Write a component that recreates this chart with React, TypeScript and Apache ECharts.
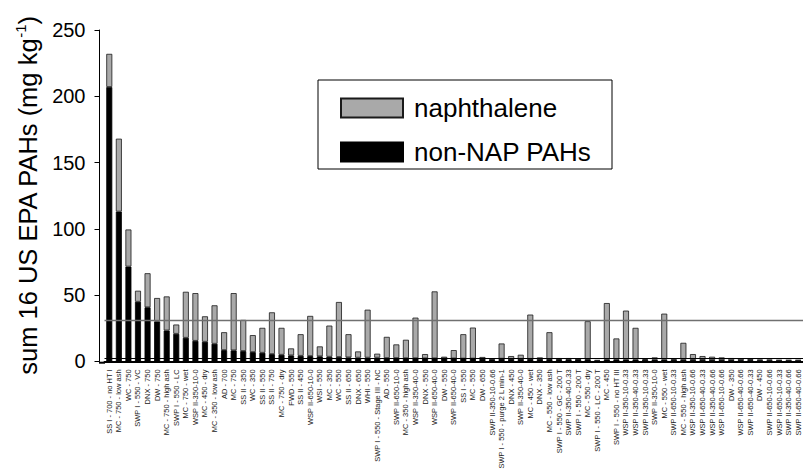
import React, { useEffect, useRef } from "react";
import * as echarts from "echarts";

const categories: string[] = [
  "SS I - 700 - no HT I", "MC - 750 - low ash", "WC - 750", "SWP I - 550 - VC", "DNX - 750",
  "DW - 750", "MC - 750 - high ash", "SWP I - 550 - LC", "MC - 750 - wet", "WSP II-350-10-0",
  "MC - 450 - dry", "MC - 350 - low ash", "AD - 700", "MC - 750", "SS II - 350",
  "WC - 350", "SS II - 550", "SS II - 750", "MC - 750 - dry", "FWD - 550",
  "SS II - 450", "WSP II-650-10-0", "WSI - 550", "MC - 350", "WC - 550",
  "SS II - 650", "DNX - 650", "WHI - 550", "SWP I - 550 - Stage III - NC", "AD - 550",
  "SWP II-650-10-0", "MC - 350 - high ash", "WSP II-350-40-0", "DNX - 550", "WSP II-650-40-0",
  "DW - 550", "SWP II-650-40-0", "SS I - 550", "MC - 550", "DW - 650",
  "SWP II-350-10-0.66", "SWP I - 550 - purge 2 L min-1", "DNX - 450", "SWP II-350-40-0", "MC - 450 - wet",
  "DNX - 350", "MC - 550 - low ash", "SWP I - 550 - GC - 200 T", "SWP II-350-40-0.33", "SWP I - 550 - 200 T",
  "MC - 550 - dry", "SWP I - 550 - LC - 200 T", "MC - 450", "SWP I - 550 - no HT III", "WSP II-350-10-0.33",
  "WSP II-350-40-0.33", "SWP II-350-10-0.33", "SWP II-350-10-0", "MC - 550 - wet", "SWP II-650-10-0.33",
  "MC - 550 - high ash", "WSP II-350-10-0.66", "WSP II-650-40-0.33", "WSP II-350-40-0.66", "WSP II-650-10-0.66",
  "DW - 350", "WSP II-650-40-0.66", "SWP II-650-40-0.33", "DW - 450", "SWP II-650-10-0.66",
  "WSP II-650-10-0.33", "SWP II-350-40-0.66", "SWP II-650-40-0.66",
];

const nonNapPAHs: number[] = [
  207, 113, 71.5, 45, 40.8, 30, 23.3, 20.8, 17.8, 15.5,
  14.8, 13.3, 8.5, 8.3, 7.8, 7, 6.5, 5.5, 5, 4.5,
  4.2, 4, 3.8, 3.5, 3.3, 3, 2.8, 2.8, 2.8, 2.5,
  2.5, 2.4, 2.4, 2.3, 2.3, 2.2, 2.2, 2.1, 2.1, 2,
  1.6, 2, 1.9, 1.9, 1.9, 1.8, 1.8, 1.7, 1.6, 1.6,
  1.6, 0.5, 1.5, 1.5, 1.4, 1.4, 1.2, 1.3, 1.3, 1.2,
  1.2, 1.1, 1.1, 1, 1, 1, 0.9, 0.9, 0.8, 0.8,
  0.7, 0.7, 0.7,
];

const naphthalene: number[] = [
  25, 55, 28, 8.3, 25.7, 17.8, 25.7, 7, 34.7, 36,
  19.2, 29, 13.5, 43.2, 23.5, 12.8, 18.8, 31.5, 20.3, 5.3,
  16.3, 30.3, 7.5, 23.5, 41.5, 17.5, 4.7, 36.2, 3, 16,
  10.3, 13.9, 30.6, 3.2, 50.5, 1.3, 6.3, 18.4, 23.4, 1.3,
  0.7, 11.5, 2.1, 3.1, 33.4, 1.2, 20.2, 0.8, 0.9, 0.4,
  28.7, 0.5, 42.5, 15.8, 36.9, 23.9, 0.6, 1.7, 34.7, 0.8,
  12.8, 4.4, 2.9, 2.5, 2, 1.5, 1.1, 0.9, 0.5, 0.5,
  0.3, 0.3, 0.3,
];

const referenceLines: number[] = [31.3, 2.5];
const yTicks = { min: 0, max: 250, interval: 50 };

const FONT = "Liberation Sans, Arial, sans-serif";

export default function App() {
  const ref = useRef<HTMLDivElement>(null);

  useEffect(() => {
    if (!ref.current) return;
    const chart = echarts.init(ref.current, undefined, { renderer: "svg" });
    chart.setOption({
      animation: false,
      backgroundColor: "#ffffff",
      grid: { left: 104.5, right: -8, top: 30, bottom: 109.3, containLabel: false },
      graphic: [
        {
          type: "rect",
          shape: { x: 318, y: 80, width: 294, height: 89 },
          style: { fill: "#ffffff", stroke: "#000000", lineWidth: 1 },
          z: 0,
        },
        {
          type: "line",
          shape: { x1: 99, y1: 362.7, x2: 105, y2: 362.7 },
          style: { stroke: "#000000", lineWidth: 2 },
          z: 10,
        },
      ],
      legend: {
        data: ["naphthalene", "non-NAP PAHs"],
        orient: "vertical",
        left: 340,
        top: 95,
        itemWidth: 62,
        itemHeight: 19,
        itemGap: 18,
        icon: "rect",
        padding: 0,
        textStyle: { fontSize: 26, color: "#000000", fontFamily: FONT, padding: [0, 0, 0, 6] },
        z: 5,
      },
      xAxis: {
        type: "category",
        data: categories,
        axisLine: { lineStyle: { color: "#000000", width: 2 } },
        axisTick: { alignWithLabel: true, length: 5, lineStyle: { color: "#000000" } },
        axisLabel: {
          interval: 0,
          rotate: 90,
          fontSize: 7.5,
          fontFamily: FONT,
          color: "#222222",
          margin: 8,
        },
      },
      yAxis: {
        type: "value",
        min: yTicks.min,
        max: yTicks.max,
        interval: yTicks.interval,
        offset: 5,
        splitLine: { show: false },
        axisLine: { show: true, lineStyle: { color: "#000000", width: 1 } },
        axisTick: { show: true, length: 5, lineStyle: { color: "#000000" } },
        axisLabel: { fontSize: 20, fontFamily: FONT, color: "#000000", margin: 14 },
        name: "{a|sum 16 US EPA PAHs (mg kg}{b|-1}{a|)}",
        nameLocation: "middle",
        nameRotate: 90,
        nameGap: 54,
        nameTextStyle: {
          rich: {
            a: { fontSize: 25.5, fontFamily: FONT, color: "#000000", lineHeight: 30 },
            b: { fontSize: 15, fontFamily: FONT, color: "#000000", verticalAlign: "top", lineHeight: 30, padding: [0, 0, 10, 0] },
          },
        },
      },
      series: [
        {
          name: "non-NAP PAHs",
          type: "bar",
          stack: "total",
          data: nonNapPAHs,
          barWidth: 6,
          itemStyle: { color: "#000000", borderColor: "#000000", borderWidth: 0.8 },
          markLine: {
            silent: true,
            symbol: "none",
            label: { show: false },
            lineStyle: { type: "solid" },
            data: [
              { yAxis: referenceLines[0], lineStyle: { color: "#707070", width: 1.4 } },
              { yAxis: referenceLines[1], lineStyle: { color: "#000000", width: 1 } },
            ],
          },
        },
        {
          name: "naphthalene",
          type: "bar",
          stack: "total",
          data: naphthalene,
          barWidth: 6,
          itemStyle: { color: "#a9a9a9", borderColor: "#1a1a1a", borderWidth: 0.8 },
        },
      ],
    });
    return () => chart.dispose();
  }, []);

  return (
    <div
      ref={ref}
      style={{ position: "fixed", left: 0, top: 0, width: 803, height: 472, background: "#fff" }}
    />
  );
}
